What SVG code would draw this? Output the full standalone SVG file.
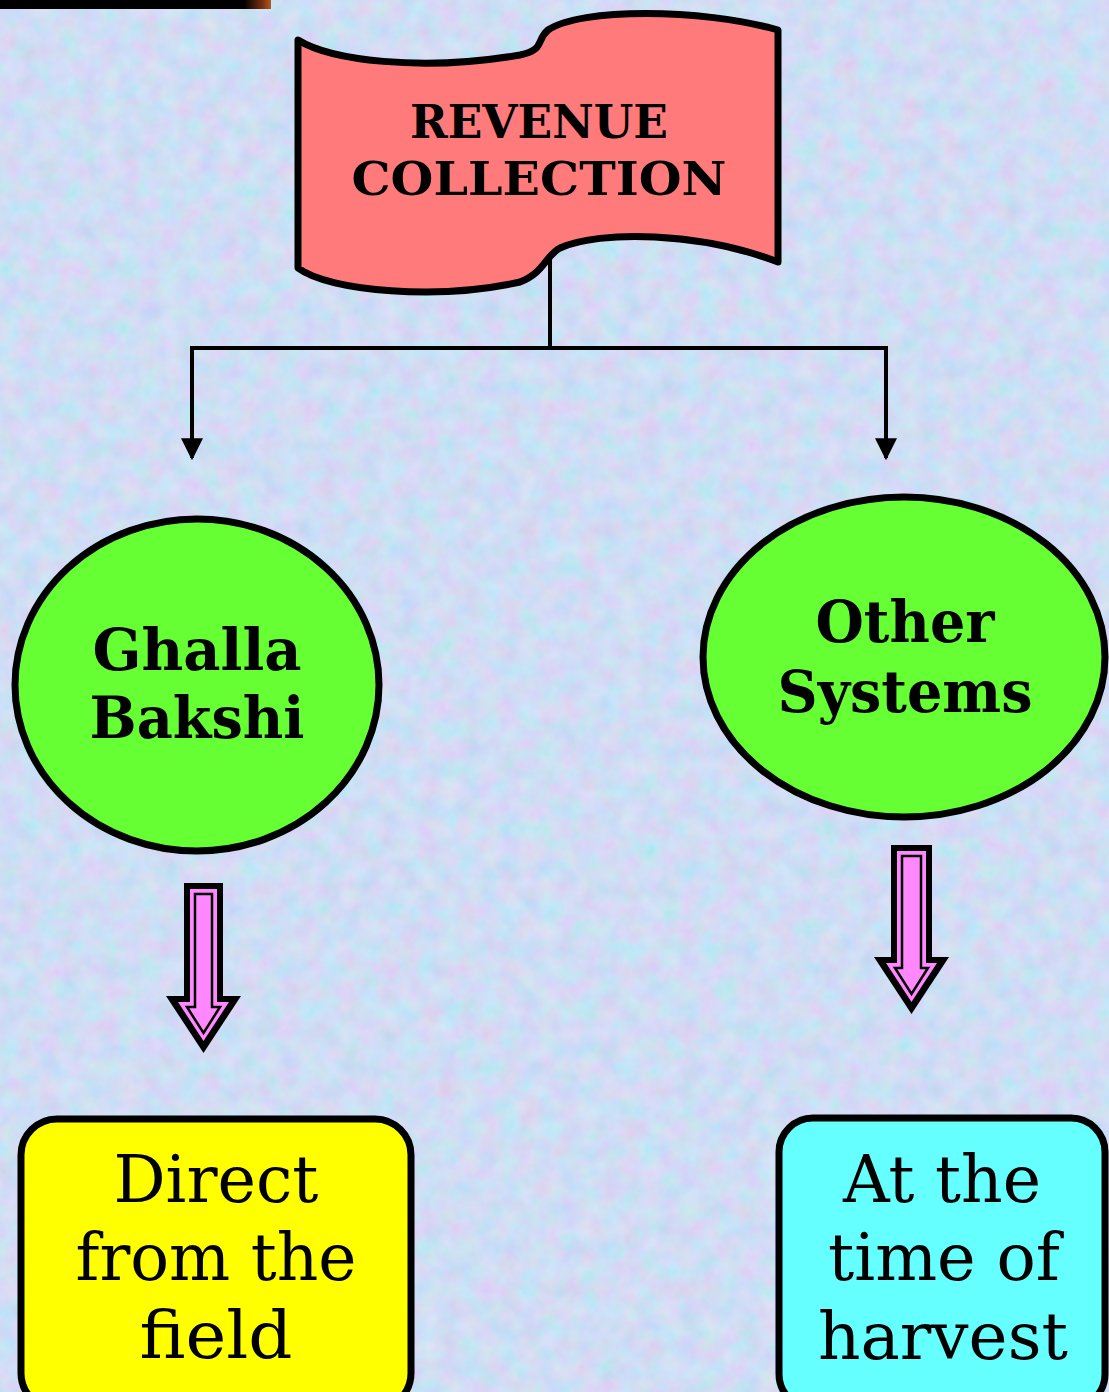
<svg xmlns="http://www.w3.org/2000/svg" width="1109" height="1392" viewBox="0 0 1109 1392">
<defs>
<style>
.conn{fill:none;stroke:#000;stroke-width:4}
.t{font-family:"DejaVu Serif","Liberation Serif",serif;fill:#000;text-anchor:middle}
.b{font-weight:bold}
.node{stroke:#000;stroke-width:7}
</style>
<linearGradient id="bar" x1="0" x2="1" y1="0" y2="0">
<stop offset="0.9" stop-color="#000"/><stop offset="0.97" stop-color="#7a3010"/><stop offset="1" stop-color="#b05a20"/>
</linearGradient>
<filter id="tex" x="0" y="0" width="100%" height="100%">
<feTurbulence type="fractalNoise" baseFrequency="0.05" numOctaves="3" seed="7" result="n"/>
<feColorMatrix in="n" type="matrix" values="0.9 -0.3 0 0 0.45  -0.2 0.6 0 0 0.62  0 0 0.4 0 0.72  0 0 0 0 1"/>
</filter>
<marker id="ah" viewBox="0 0 10 10" refX="9" refY="5" markerWidth="5.5" markerHeight="5.5" orient="auto" markerUnits="strokeWidth">
<path d="M0,0 L10,5 L0,10 z" fill="#000"/>
</marker>
</defs>
<rect width="1109" height="1392" fill="#c2d4f4"/>
<rect width="1109" height="1392" filter="url(#tex)" opacity="0.45"/>
<rect x="0" y="0" width="271" height="9" fill="url(#bar)"/>

<g id="connectors">
<path class="conn" d="M550,255 V348"/>
<path class="conn" d="M190,348 H888"/>
<path class="conn" d="M192,348 V458" marker-end="url(#ah)"/>
<path class="conn" d="M886,348 V458" marker-end="url(#ah)"/>
</g>

<g id="revenue-collection">
<path class="node" fill="#ff7b7b" stroke-linejoin="round" d="M298,40 C330,60 420,72 520,55 C545,50 536,40 548,30 C580,8 700,8 778,30 L778,262 C700,232 600,230 560,248 C545,256 545,272 520,282 C440,300 330,292 298,268 Z"/>
<text class="t b" x="539" y="138" font-size="47" textLength="258" lengthAdjust="spacingAndGlyphs">REVENUE</text>
<text class="t b" x="539" y="195" font-size="47" textLength="375" lengthAdjust="spacingAndGlyphs">COLLECTION</text>
</g>

<g id="ghalla-bakshi">
<ellipse class="node" cx="197" cy="685" rx="182" ry="166" fill="#66ff33"/>
<text class="t b" x="197" y="670" font-size="58" textLength="209" lengthAdjust="spacingAndGlyphs">Ghalla</text>
<text class="t b" x="197" y="738" font-size="58" textLength="215" lengthAdjust="spacingAndGlyphs">Bakshi</text>
</g>

<g id="other-systems">
<ellipse class="node" cx="904" cy="657" rx="201" ry="160" fill="#66ff33"/>
<text class="t b" x="905" y="642" font-size="58" textLength="179" lengthAdjust="spacingAndGlyphs">Other</text>
<text class="t b" x="905" y="712" font-size="58" textLength="255" lengthAdjust="spacingAndGlyphs">Systems</text>
</g>

<g id="arrow-left">
<polygon points="184,883 223,883 223,996 241,996 203.5,1053 166,996 184,996" fill="#000"/>
<polygon points="190,889 217,889 217,1002 229,1002 203.5,1041 178,1002 190,1002" fill="#ff88ff"/>
<polygon points="195,894 212,894 212,1007 220,1007 203.5,1033 187,1007 195,1007" fill="#ff88ff" stroke="#000" stroke-width="2.5"/>
</g>

<g id="arrow-right">
<polygon points="891,845 932,845 932,957 949,957 911.5,1014 874,957 891,957" fill="#000"/>
<polygon points="897,851 926,851 926,963 937,963 911.5,1002 886,963 897,963" fill="#ff88ff"/>
<polygon points="902,856 921,856 921,968 928,968 911.5,994 895,968 902,968" fill="#ff88ff" stroke="#000" stroke-width="2.5"/>
</g>

<g id="direct-from-the-field">
<rect class="node" x="21" y="1119" width="390" height="290" rx="36" fill="#ffff00"/>
<text class="t" x="216" y="1202" font-size="66" textLength="205" lengthAdjust="spacingAndGlyphs">Direct</text>
<text class="t" x="216" y="1280" font-size="66" textLength="281" lengthAdjust="spacingAndGlyphs">from the</text>
<text class="t" x="216" y="1358" font-size="66" textLength="153" lengthAdjust="spacingAndGlyphs">field</text>
</g>

<g id="at-the-time-of-harvest">
<rect class="node" x="779" y="1118" width="326" height="290" rx="34" fill="#66ffff"/>
<text class="t" x="942" y="1202" font-size="66" textLength="198" lengthAdjust="spacingAndGlyphs">At the</text>
<text class="t" x="944" y="1280" font-size="66" textLength="232" lengthAdjust="spacingAndGlyphs">time of</text>
<text class="t" x="943" y="1359" font-size="66" textLength="250" lengthAdjust="spacingAndGlyphs">harvest</text>
</g>
</svg>
